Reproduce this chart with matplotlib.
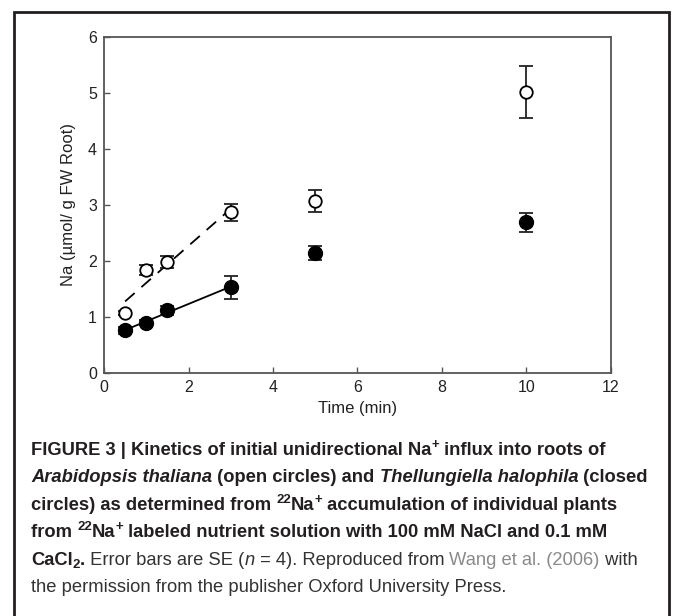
import matplotlib
matplotlib.use("Agg")
import matplotlib.pyplot as plt
import numpy as np
from matplotlib import font_manager
from matplotlib.patches import Rectangle
from matplotlib.transforms import IdentityTransform

# ---------------- data ----------------
time_min = [0.5, 1, 1.5, 3, 5, 10]
arabidopsis = [1.07, 1.84, 1.98, 2.87, 3.07, 5.02]
arabidopsis_se = [0.04, 0.09, 0.11, 0.15, 0.19, 0.46]
thellungiella = [0.76, 0.90, 1.12, 1.53, 2.14, 2.69]
thellungiella_se = [0.07, 0.05, 0.08, 0.20, 0.12, 0.17]
fit_points = 4  # regression over first four time points
x_ticks = [0, 2, 4, 6, 8, 10, 12]
y_ticks = [0, 1, 2, 3, 4, 5, 6]

W, H = 675, 616
fig = plt.figure(figsize=(W / 100, H / 100), dpi=100)

def has_font(name):
    try:
        font_manager.findfont(name, fallback_to_default=False)
        return True
    except Exception:
        return False

sans = "Liberation Sans" if has_font("Liberation Sans") else "DejaVu Sans"
plt.rcParams["font.family"] = [sans, "DejaVu Sans"]

# outer frame
fig.patches.append(Rectangle((14 / W, -0.05), (669 - 14) / W, 1.05 - 12 / H,
                             transform=fig.transFigure, fill=False,
                             edgecolor="#231f20", linewidth=2.0))

# axes
ax = fig.add_axes([104 / W, 1 - 373 / H, (611 - 104) / W, (373 - 37) / H])
ax.set_xlim(0, 12)
ax.set_ylim(0, 6)
ax.set_xticks(x_ticks)
ax.set_yticks(y_ticks)
for s in ax.spines.values():
    s.set_color("#555555")
    s.set_linewidth(1.3)
ax.tick_params(direction="in", length=4, width=1.0, color="#555555",
               labelsize=11.5, labelcolor="#222222", pad=5)
ax.set_xlabel("Time (min)", fontsize=12, color="#222222", labelpad=4)
ax.set_ylabel("Na (µmol/ g FW Root)", fontsize=12, color="#222222", labelpad=9)

t = np.array(time_min)
a = np.array(arabidopsis)
th = np.array(thellungiella)

# regression lines
ca = np.polyfit(t[:fit_points], a[:fit_points], 1)
ct = np.polyfit(t[:fit_points], th[:fit_points], 1)
xs = np.array([t[0], t[fit_points - 1]])
ax.plot(xs, np.polyval(ca, xs), color="black", lw=1.3, dashes=(7, 5), zorder=2)
ax.plot(xs, np.polyval(ct, xs), color="black", lw=1.3, zorder=2)

ax.errorbar(t, a, yerr=arabidopsis_se, fmt="o", mfc="white", mec="black",
            mew=1.3, ms=9, ecolor="#222222", elinewidth=1.3, capsize=5,
            capthick=1.3, zorder=3)
ax.errorbar(t, th, yerr=thellungiella_se, fmt="o", mfc="black", mec="black",
            ms=10, ecolor="#222222", elinewidth=1.3, capsize=5,
            capthick=1.3, zorder=3)

# ---------------- caption ----------------
renderer = fig.canvas.get_renderer()
DARK = "#231f20"
GREY = "#8a8a8a"

def measure(text, **kw):
    t1 = fig.text(0, 0, "|" + text + "|", transform=IdentityTransform(), **kw)
    t2 = fig.text(0, 0, "||", transform=IdentityTransform(), **kw)
    w = t1.get_window_extent(renderer).width - t2.get_window_extent(renderer).width
    t1.remove(); t2.remove()
    return w

cap_size = 13.2
B = dict(weight="bold", size=cap_size, color=DARK)
BI = dict(weight="bold", style="italic", size=cap_size, color=DARK)
R = dict(weight="normal", size=cap_size, color="#333333")
RI = dict(weight="normal", style="italic", size=cap_size, color="#333333")
G = dict(weight="normal", size=cap_size, color=GREY)

def sup(d):
    e = dict(d); e["size"] = d["size"] * 0.72; e["_sup"] = True
    return e

def sub(d):
    e = dict(d); e["size"] = d["size"] * 0.72; e["_sub"] = True
    return e

lines = [
    [("FIGURE 3 | Kinetics of initial unidirectional Na", B), ("+", sup(B)),
     (" influx into roots of", B)],
    [("Arabidopsis thaliana", BI), (" (open circles) and ", B),
     ("Thellungiella halophila", BI), (" (closed", B)],
    [("circles) as determined from ", B), ("22", sup(B)), ("Na", B), ("+", sup(B)),
     (" accumulation of individual plants", B)],
    [("from ", B), ("22", sup(B)), ("Na", B), ("+", sup(B)),
     (" labeled nutrient solution with 100 mM NaCl and 0.1 mM", B)],
    [("CaCl", B), ("2", sub(B)), (".", B), (" Error bars are SE (", R), ("n", RI),
     (" = 4). Reproduced from ", R), ("Wang et al. (2006)", G), (" with", R)],
    [("the permission from the publisher Oxford University Press.", R)],
]
baselines = [455, 482, 510, 537, 565, 592]
x_left = 31

for runs, yb in zip(lines, baselines):
    x = x_left
    for text, kw in runs:
        kw = dict(kw)
        dy = 0
        if kw.pop("_sup", False):
            dy = 7
        if kw.pop("_sub", False):
            dy = -3
        fig.text(x, H - yb + dy, text, transform=IdentityTransform(),
                 va="baseline", ha="left", **kw)
        x += measure(text, **kw)

fig.savefig("out.png", dpi=100)
